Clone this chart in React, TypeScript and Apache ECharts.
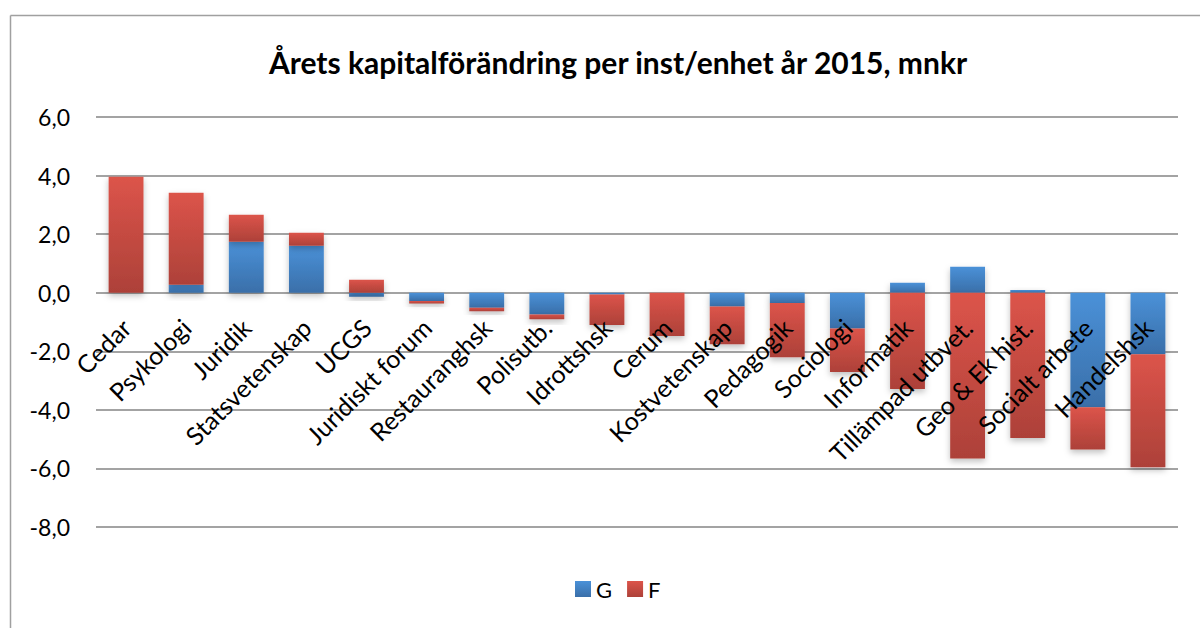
import React, { useEffect, useRef } from "react";
import * as echarts from "echarts";

const categories = [
  "Cedar", "Psykologi", "Juridik", "Statsvetenskap", "UCGS", "Juridiskt forum",
  "Restauranghsk", "Polisutb.", "Idrottshsk", "Cerum", "Kostvetenskap", "Pedagogik",
  "Sociologi", "Informatik", "Tillämpad utbvet.", "Geo & Ek hist.", "Socialt arbete", "Handelshsk",
];
const seriesG = [0, 0.27, 1.74, 1.6, -0.14, -0.28, -0.51, -0.74, -0.06, 0, -0.47, -0.35, -1.22, 0.34, 0.89, 0.09, -3.91, -2.1];
const seriesF = [3.96, 3.14, 0.92, 0.45, 0.44, -0.09, -0.12, -0.17, -1.04, -1.48, -1.29, -1.85, -1.49, -3.29, -5.66, -4.96, -1.44, -3.86];
const titleText = "Årets kapitalförändring per inst/enhet år 2015, mnkr";

const FONT = "Lato, 'Noto Sans', sans-serif";

const grad = (top: string, bottom: string) =>
  new echarts.graphic.LinearGradient(0, 0, 0, 1, [
    { offset: 0, color: top },
    { offset: 1, color: bottom },
  ]);

export default function App() {
  const ref = useRef<HTMLDivElement>(null);
  useEffect(() => {
    if (!ref.current) return;
    const chart = echarts.init(ref.current, undefined, { renderer: "svg" });
    const blue = grad("#4a91d8", "#3a6fa9");
    const red = grad("#dc544a", "#ad4139");
    chart.setOption({
      animation: false,
      backgroundColor: "#ffffff",
      title: {
        text: titleText,
        left: 613,
        textAlign: "center",
        top: 42,
        textStyle: { fontFamily: FONT, fontSize: 30, fontWeight: "bold", color: "#000" },
      },
      legend: {
        data: ["G", "F"],
        left: 570,
        top: 573,
        itemWidth: 16,
        itemHeight: 16,
        itemGap: 15,
        icon: "rect",
        textStyle: { fontFamily: FONT, fontSize: 22, color: "#000" },
      },
      grid: { left: 96, right: 22, top: 117, bottom: 101, containLabel: false, outerBoundsMode: "none" },
      xAxis: {
        type: "category",
        data: categories,
        offset: -234,
        axisLine: { show: false },
        axisTick: { show: false },
        axisLabel: {
          rotate: 45,
          interval: 0,
          margin: 30,
          fontFamily: FONT,
          fontSize: 25,
          color: "#000",
        },
        z: 10,
      },
      yAxis: {
        type: "value",
        min: -8,
        max: 6,
        interval: 2,
        axisLine: { show: false },
        axisTick: { show: false },
        splitLine: { lineStyle: { color: "#a3a3a3", width: 2 } },
        axisLabel: {
          margin: 26,
          fontFamily: FONT,
          fontSize: 23,
          color: "#000",
          formatter: (v: number) => v.toFixed(1).replace(".", ","),
        },
      },
      graphic: [
        { type: "line", shape: { x1: 10.5, y1: 15.5, x2: 1200, y2: 15.5 }, style: { stroke: "#a0a0a0", lineWidth: 1.5 } },
        { type: "line", shape: { x1: 10.5, y1: 15.5, x2: 10.5, y2: 628 }, style: { stroke: "#a0a0a0", lineWidth: 1.5 } },
      ],
      series: [
        {
          name: "G",
          type: "bar",
          stack: "total",
          data: seriesG,
          barWidth: "58%",
          itemStyle: { color: blue, shadowBlur: 6, shadowOffsetY: 3, shadowColor: "rgba(0,0,0,0.25)" },
        },
        {
          name: "F",
          type: "bar",
          stack: "total",
          data: seriesF,
          barWidth: "58%",
          itemStyle: { color: red, shadowBlur: 6, shadowOffsetY: 3, shadowColor: "rgba(0,0,0,0.25)" },
        },
      ],
    });
    return () => chart.dispose();
  }, []);
  return (
    <div
      ref={ref}
      style={{ position: "absolute", left: 0, top: 0, width: 1200, height: 628 }}
    />
  );
}
